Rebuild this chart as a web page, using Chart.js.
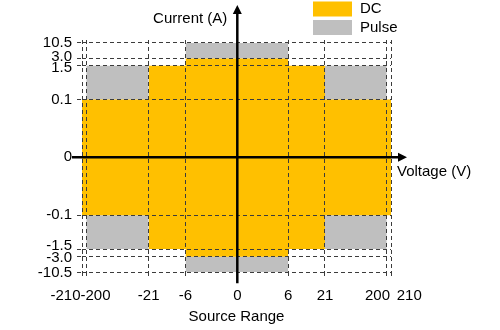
<!DOCTYPE html>
<html>
<head>
<meta charset="utf-8">
<script src="https://cdn.jsdelivr.net/npm/chart.js@4.4.1/dist/chart.umd.min.js"></script>
<style>
html,body{margin:0;padding:0;background:#fff;}
canvas{display:block;}
</style>
</head>
<body>
<canvas id="c" width="500" height="330"></canvas>
<script>
// ---------------- data ----------------
const voltageTicks = [-210, -200, -21, -6, 0, 6, 21, 200, 210];
const voltageTickLabels = ['-210', '-200', '-21', '-6', '0', '6', '21', '200', '210'];
const currentTicks = [-10.5, -3.0, -1.5, -0.1, 0, 0.1, 1.5, 3.0, 10.5];
const currentTickLabels = ['-10.5', '-3.0', '-1.5', '-0.1', '0', '0.1', '1.5', '3.0', '10.5'];

const seriesNames = ['DC', 'Pulse'];
// DC source ranges: voltage span, current span
const dcVoltage = [[-210, 210], [-21, 21], [-6, 6]];
const dcCurrent = [[-0.1, 0.1], [-1.5, 1.5], [-3.0, 3.0]];
// Pulse-only source ranges
const pulseVoltage = [[-200, -21], [21, 200], [-200, -21], [21, 200], [-6, 6], [-6, 6]];
const pulseCurrent = [[0.1, 1.5], [0.1, 1.5], [-1.5, -0.1], [-1.5, -0.1], [3.0, 10.5], [-10.5, -3.0]];

const xAxisTitle = 'Source Range';
const voltageTitle = 'Voltage (V)';
const currentTitle = 'Current (A)';

// ---------------- styles ----------------
const DC_COLOR = '#FFC000';
const PULSE_COLOR = '#BFBFBF';
const GRID_COLOR = '#3c3c3c';
const FONT_FAMILY = "'Liberation Sans', Arial, sans-serif";
const FONT_SIZE = 15;

// ---------------- piecewise-linear scale ----------------
class PiecewiseScale extends Chart.LinearScale {
  buildTicks() {
    return this.options.tickValues.map(v => ({ value: v }));
  }
  _toDecimal(v) {
    const b = this.options.breaks, f = this.options.decimals, n = b.length;
    if (v <= b[0]) return f[0] + (v - b[0]) * (f[1] - f[0]) / (b[1] - b[0]);
    for (let i = 1; i < n; i++) {
      if (v <= b[i]) return f[i - 1] + (v - b[i - 1]) / (b[i] - b[i - 1]) * (f[i] - f[i - 1]);
    }
    return f[n - 1] + (v - b[n - 1]) * (f[n - 1] - f[n - 2]) / (b[n - 1] - b[n - 2]);
  }
  _fromDecimal(d) {
    const b = this.options.breaks, f = this.options.decimals, n = b.length;
    for (let i = 1; i < n; i++) {
      if (d <= f[i] || i === n - 1) return b[i - 1] + (d - f[i - 1]) / (f[i] - f[i - 1]) * (b[i] - b[i - 1]);
    }
    return b[n - 1];
  }
  getPixelForValue(v) {
    return this.getPixelForDecimal(this._toDecimal(v));
  }
  getValueForPixel(p) {
    return this._fromDecimal(this.getDecimalForPixel(p));
  }
}
PiecewiseScale.id = 'piecewise';
PiecewiseScale.defaults = Chart.LinearScale.defaults;
Chart.register(PiecewiseScale);

// ---------------- datasets ----------------
const datasets = [];
function addRegion(name, color, v, c) {
  datasets.push({
    label: name,
    data: [{ x: v[0], y: c[1] }, { x: v[1], y: c[1] }],
    fill: { value: c[0] },
    backgroundColor: color,
    borderColor: 'rgba(0,0,0,0)',
    borderWidth: 0,
    pointRadius: 0,
    pointHoverRadius: 0,
    tension: 0
  });
}
dcVoltage.forEach((v, i) => addRegion(seriesNames[0], DC_COLOR, v, dcCurrent[i]));
pulseVoltage.forEach((v, i) => addRegion(seriesNames[1], PULSE_COLOR, v, pulseCurrent[i]));

// ---------------- overlay: axes arrows, titles, tick labels, legend ----------------
const xLabelPlacement = {
  '-210': ['right', -1.5],
  '-200': ['left', -5.8],
  '200': ['right', 3.3],
  '210': ['left', 5.7]
};
// small vertical nudges so crowded current labels do not collide
const yLabelNudge = { '10.5': 0, '3.0': -2, '1.5': 2.5, '-1.5': -3, '-3.0': 1.5, '-10.5': 0.5 };

const overlay = {
  id: 'overlay',
  afterDraw(chart) {
    const { ctx, chartArea: a, scales: { x, y } } = chart;
    const x0 = x.getPixelForValue(0), y0 = y.getPixelForValue(0);
    ctx.save();
    ctx.strokeStyle = '#000';
    ctx.fillStyle = '#000';
    ctx.lineWidth = 2.5;
    ctx.setLineDash([]);
    // horizontal axis with arrow
    const xr = a.right + 16;
    ctx.beginPath(); ctx.moveTo(a.left - 10, y0); ctx.lineTo(xr - 7, y0); ctx.stroke();
    ctx.beginPath(); ctx.moveTo(xr, y0); ctx.lineTo(xr - 9, y0 - 4.5); ctx.lineTo(xr - 9, y0 + 4.5); ctx.closePath(); ctx.fill();
    // vertical axis with arrow
    const yt = a.top - 35;
    ctx.beginPath(); ctx.moveTo(x0, a.bottom + 11); ctx.lineTo(x0, yt + 7); ctx.stroke();
    ctx.beginPath(); ctx.moveTo(x0, yt); ctx.lineTo(x0 - 4.5, yt + 9); ctx.lineTo(x0 + 4.5, yt + 9); ctx.closePath(); ctx.fill();

    ctx.font = FONT_SIZE + 'px ' + FONT_FAMILY;
    ctx.textBaseline = 'middle';
    // axis titles
    ctx.textAlign = 'right';
    ctx.fillText(currentTitle, x0 - 10, a.top - 21.5);
    ctx.textAlign = 'left';
    ctx.fillText(voltageTitle, a.right + 6, y0 + 14.5);
    // x tick labels
    const ly = a.bottom + 24;
    voltageTicks.forEach((v, i) => {
      const lab = voltageTickLabels[i];
      const pl = xLabelPlacement[lab] || ['center', 0];
      ctx.textAlign = pl[0];
      ctx.fillText(lab, x.getPixelForValue(v) + pl[1], ly);
    });
    // y tick labels
    ctx.textAlign = 'right';
    currentTicks.forEach((v, i) => {
      const lab = currentTickLabels[i];
      ctx.fillText(lab, a.left - 10, y.getPixelForValue(v) + (yLabelNudge[lab] || 0));
    });
    // legend
    const lx = a.right - 78;
    const colors = [DC_COLOR, PULSE_COLOR];
    seriesNames.forEach((name, i) => {
      const by = 1.5 + i * 18.5;
      ctx.fillStyle = colors[i];
      ctx.fillRect(lx, by, 39, 15);
      ctx.fillStyle = '#000';
      ctx.textAlign = 'left';
      ctx.fillText(name, lx + 47, by + 7.5);
    });
    ctx.restore();
  }
};

Chart.defaults.font.family = FONT_FAMILY;
Chart.defaults.font.size = FONT_SIZE;
Chart.defaults.color = '#000';

new Chart(document.getElementById('c'), {
  type: 'line',
  data: { datasets },
  plugins: [overlay],
  options: {
    responsive: false,
    animation: false,
    events: [],
    layout: { padding: { top: 40, right: 109, left: 0, bottom: 0 } },
    plugins: {
      legend: { display: false },
      tooltip: { enabled: false },
      filler: { propagate: false }
    },
    scales: {
      x: {
        type: 'piecewise',
        position: 'bottom',
        min: -210,
        max: 210,
        tickValues: voltageTicks,
        breaks: voltageTicks,
        decimals: [0, 0.0139, 0.2159, 0.3350, 0.5026, 0.6676, 0.7864, 0.9861, 1],
        afterFit: s => { s.height = 57.7; },
        grid: { color: GRID_COLOR, lineWidth: 1, drawTicks: true, tickLength: 6, tickColor: GRID_COLOR, tickBorderDash: [4, 3], z: 1 },
        border: { display: false, dash: [4, 3] },
        ticks: { autoSkip: false, maxRotation: 0, minRotation: 0, color: 'rgba(0,0,0,0)', callback: (v, i) => voltageTickLabels[i] },
        title: { display: true, text: xAxisTitle, color: '#000', font: { size: FONT_SIZE }, padding: { top: 0, bottom: 4.3 } }
      },
      y: {
        type: 'piecewise',
        position: 'left',
        min: -10.5,
        max: 10.5,
        tickValues: currentTicks,
        breaks: currentTicks,
        decimals: [0, 0.0672, 0.1003, 0.2454, 0.4951, 0.7434, 0.8890, 0.9204, 0.9871],
        afterFit: s => { s.width = 82; },
        grid: { color: GRID_COLOR, lineWidth: 1, drawTicks: true, tickLength: 5, tickColor: GRID_COLOR, tickBorderDash: [4, 3], z: 1 },
        border: { display: false, dash: [4, 3] },
        ticks: { autoSkip: false, padding: 5, color: 'rgba(0,0,0,0)', callback: (v, i) => currentTickLabels[i] }
      }
    }
  }
});
</script>
</body>
</html>
